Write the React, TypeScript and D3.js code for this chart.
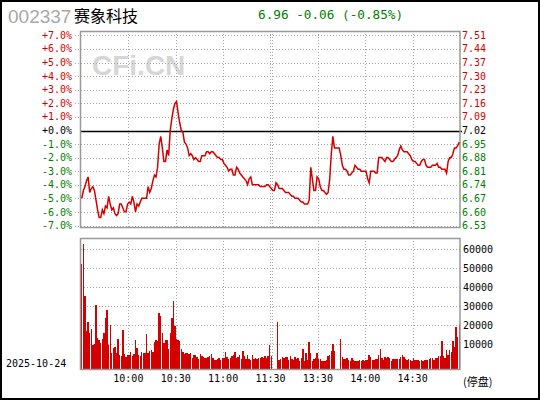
import React from "react";
import * as d3 from "d3";

// 赛象科技 002337, 2025-10-24 intraday (one point per minute, 240 minutes)
const prevClose = 7.02;

const prices: number[] = [
  6.67, 6.71, 6.73, 6.76, 6.78, 6.70, 6.72, 6.73, 6.71, 6.66,
  6.61, 6.57, 6.57, 6.61, 6.59, 6.63, 6.62, 6.68, 6.64, 6.61,
  6.62, 6.59, 6.58, 6.59, 6.64, 6.64, 6.62, 6.60, 6.60, 6.64,
  6.65, 6.64, 6.68, 6.65, 6.60, 6.64, 6.63, 6.65, 6.67, 6.67,
  6.67, 6.67, 6.73, 6.70, 6.72, 6.76, 6.79, 6.78, 6.83, 6.95,
  6.99, 6.93, 6.86, 6.86, 6.92, 6.89, 7.02, 7.08, 7.13, 7.16,
  7.17, 7.11, 7.06, 7.02, 7.01, 6.96, 6.95, 6.93, 6.89, 6.90,
  6.89, 6.87, 6.88, 6.87, 6.86, 6.86, 6.89, 6.89, 6.89, 6.91,
  6.91, 6.90, 6.91, 6.91, 6.90, 6.89, 6.88, 6.88, 6.87, 6.87,
  6.85, 6.84, 6.83, 6.81, 6.82, 6.82, 6.79, 6.79, 6.83, 6.82,
  6.80, 6.79, 6.78, 6.77, 6.76, 6.74, 6.77, 6.78, 6.74, 6.74,
  6.74, 6.74, 6.74, 6.73, 6.73, 6.73, 6.73, 6.74, 6.74, 6.73,
  6.72, 6.71, 6.71, 6.75, 6.74, 6.72, 6.72, 6.72, 6.71, 6.70,
  6.70, 6.70, 6.69, 6.68, 6.68, 6.67, 6.67, 6.67, 6.66, 6.65,
  6.65, 6.64, 6.64, 6.64, 6.66, 6.83, 6.77, 6.71, 6.71, 6.78,
  6.77, 6.73, 6.71, 6.71, 6.70, 6.69, 6.70, 6.77, 6.90, 6.99,
  6.93, 6.93, 6.93, 6.93, 6.89, 6.84, 6.82, 6.82, 6.81, 6.79,
  6.79, 6.80, 6.81, 6.84, 6.83, 6.82, 6.82, 6.81, 6.81, 6.81,
  6.81, 6.77, 6.75, 6.81, 6.81, 6.81, 6.80, 6.80, 6.88, 6.88,
  6.88, 6.87, 6.86, 6.88, 6.88, 6.87, 6.86, 6.86, 6.87, 6.88,
  6.89, 6.92, 6.94, 6.92, 6.91, 6.91, 6.91, 6.90, 6.89, 6.87,
  6.86, 6.86, 6.85, 6.84, 6.84, 6.86, 6.87, 6.87, 6.84, 6.83,
  6.83, 6.83, 6.84, 6.84, 6.84, 6.85, 6.83, 6.83, 6.82, 6.82,
  6.82, 6.80, 6.86, 6.88, 6.88, 6.90, 6.93, 6.93, 6.94, 6.96,
];

const volumes: number[] = [
  52300, 62600, 35300, 17000, 21700, 16100, 18000, 9600, 10000, 30600,
  13300, 12200, 10500, 12800, 16000, 23800, 28000, 9600, 20000, 5600,
  8000, 8600, 5600, 12800, 4200, 3900, 17500, 4900, 3300, 4200,
  4400, 6000, 3900, 5000, 12300, 7900, 4200, 4000, 5800, 5400,
  5600, 15400, 5200, 6600, 7000, 6200, 11000, 12300, 11800, 26400,
  24800, 16000, 10700, 12300, 12300, 7700, 15800, 23600, 33000, 19400,
  12800, 12300, 12000, 7500, 6000, 5000, 5500, 5500, 5000, 5600,
  3000, 4600, 4500, 3400, 2500, 5000, 3600, 3500, 3000, 3000,
  3500, 4000, 5000, 3000, 2000, 2000, 2500, 2600, 2000, 2600,
  3000, 6000, 3500, 2500, 3000, 3600, 4500, 6000, 3000, 3500,
  4200, 2500, 6500, 4000, 2500, 4600, 2500, 2000, 4600, 2500,
  2600, 2500, 3000, 2600, 3400, 2800, 3600, 3000, 4000, 9600,
  3600, 0, 0, 0, 21700, 1900, 2300, 3500, 2800, 3500,
  3500, 1800, 3800, 2300, 1500, 3100, 2100, 3000, 1400, 2800,
  7500, 1400, 5500, 1500, 11200, 5500, 1000, 2100, 3000, 5500,
  2100, 2500, 1300, 1400, 1400, 1900, 3700, 4500, 6300, 10200,
  6300, 0, 0, 0, 12800, 3500, 2500, 2100, 2800, 1900,
  1000, 2800, 1900, 1300, 1200, 1000, 1700, 1400, 1600, 1000,
  1600, 1600, 4300, 3500, 1900, 1700, 2300, 2300, 4200, 7400,
  2800, 1900, 3200, 2800, 3200, 2800, 1400, 2100, 2300, 2300,
  2500, 2100, 3100, 4200, 3500, 2300, 1500, 2500, 1700, 1200,
  2600, 1600, 1600, 1900, 1200, 1700, 1400, 1600, 1900, 1900,
  2100, 2600, 2600, 1700, 2800, 2800, 3600, 3600, 12000, 3700,
  2600, 7000, 4600, 7000, 6000, 11500, 8500, 19000, 14000, 20500,
];

const pctTicks = [7, 6, 5, 4, 3, 2, 1, 0, -1, -2, -3, -4, -5, -6, -7];
const pctLabels = ["+7.0%", "+6.0%", "+5.0%", "+4.0%", "+3.0%", "+2.0%", "+1.0%", "+0.0%",
  "-1.0%", "-2.0%", "-3.0%", "-4.0%", "-5.0%", "-6.0%", "-7.0%"];
const priceLabels = ["7.51", "7.44", "7.37", "7.30", "7.23", "7.16", "7.09", "7.02",
  "6.95", "6.88", "6.81", "6.74", "6.67", "6.60", "6.53"];
const volTicks = [10000, 20000, 30000, 40000, 50000, 60000];
const timeTicks = [30, 60, 90, 120, 150, 180, 210];
const timeLabels = ["10:00", "10:30", "11:00", "11:30", "13:30", "14:00", "14:30"];

const RED = "#d40000";
const GREEN = "#008000";
const GRID = "#a8a8a8";
const mono = "'DejaVu Sans Mono', monospace";

export default function App() {
  const left = 81, right = 460;
  const priceTop = 31, priceBottom = 227;
  const volTop = 238, volBottom = 369;

  const x = d3.scaleLinear().domain([0, 240]).range([left, right]);
  const yP = d3.scaleLinear()
    .domain([prevClose * 0.93, prevClose * 1.07])
    .range([225.6, 35.4]);
  const yV = d3.scaleLinear().domain([0, 60000]).range([363.3, 249.3]);

  const linePath = d3.line<number>()
    .x((_, i) => x(i + 0.5))
    .y(d => yP(d))(prices) as string;

  const snap = (v: number) => Math.round(v) + 0.5;
  const pctColor = (p: number) => (p > 0 ? RED : p < 0 ? GREEN : "#000");

  const vGrid = (t: number, k: number, y1: number, y2: number) =>
    t === 120 ? (
      <g key={k}>
        <line x1={snap(x(t)) - 1} x2={snap(x(t)) - 1} y1={y1} y2={y2} stroke={GRID} strokeDasharray="1 2" shapeRendering="crispEdges" />
        <line x1={snap(x(t)) + 1} x2={snap(x(t)) + 1} y1={y1} y2={y2} stroke={GRID} strokeDasharray="1 2" shapeRendering="crispEdges" />
      </g>
    ) : (
      <line key={k} x1={snap(x(t))} x2={snap(x(t))} y1={y1} y2={y2} stroke={GRID} strokeDasharray="1 2" shapeRendering="crispEdges" />
    );

  return (
    <svg width={540} height={400} style={{ position: "absolute", left: 0, top: 0, background: "#fff" }}>
      <rect x={1} y={1} width={538} height={398} fill="#fff" stroke="#000" strokeWidth={2} />

      {/* header */}
      <text x={8} y={23} fontFamily="'Liberation Sans', Arial, sans-serif" fontSize={19} fill="#a8a8a8">002337</text>
      <text x={74} y={22} fontFamily="'Noto Sans CJK SC', sans-serif" fontSize={16} fill="#000">赛象科技</text>
      <text x={258} y={19} fontFamily={mono} fontSize={12.7} fill={GREEN}>6.96 -0.06 (-0.85%)</text>

      {/* watermark */}
      <text x={92} y={75} fontFamily="'Liberation Sans', Arial, sans-serif" fontWeight="bold" fontSize={28} fill="#d6d6d6">CFi.CN</text>

      {/* price grid */}
      {pctTicks.map((p, k) => {
        const y = snap(yP(prevClose * (1 + p / 100)));
        return p === 0 ? (
          <line key={k} x1={left} x2={right + 2} y1={y} y2={y} stroke="#000" strokeWidth={1.5} />
        ) : (
          <line key={k} x1={75} x2={right} y1={y} y2={y} stroke={GRID} strokeDasharray="1 2" shapeRendering="crispEdges" />
        );
      })}
      {timeTicks.map((t, k) => vGrid(t, k, priceTop, priceBottom))}
      <rect x={80.5} y={priceTop + 0.5} width={right - left + 0.5} height={priceBottom - priceTop} fill="none" stroke="#999" strokeWidth={1.5} />

      {/* price axis labels */}
      {pctTicks.map((p, k) => {
        const y = yP(prevClose * (1 + p / 100));
        return (
          <g key={k} fontFamily={mono} fontSize={10} fill={pctColor(p)}>
            <text x={72} y={y} textAnchor="end" dominantBaseline="central">{pctLabels[k]}</text>
            <text x={462} y={y} dominantBaseline="central">{priceLabels[k]}</text>
          </g>
        );
      })}

      {/* price line */}
      <path d={linePath} fill="none" stroke={RED} strokeWidth={1.5} />

      {/* volume grid */}
      {volTicks.map((v, k) => (
        <line key={k} x1={left} x2={right} y1={snap(yV(v))} y2={snap(yV(v))} stroke={GRID} strokeDasharray="1 2" shapeRendering="crispEdges" />
      ))}
      {timeTicks.map((t, k) => vGrid(t, k, volTop, volBottom))}

      {/* volume bars */}
      {volumes.map((v, i) => v > 0 ? (
        <rect key={i} x={x(i + 0.5) - 0.7} y={yV(v)} width={1.4} height={volBottom - yV(v)} fill={RED} shapeRendering="crispEdges" />
      ) : null)}

      <rect x={80.5} y={volTop + 0.5} width={right - left + 0.5} height={volBottom - volTop} fill="none" stroke="#999" strokeWidth={1.5} />

      {volTicks.map((v, k) => (
        <text key={k} x={463} y={yV(v)} fontFamily={mono} fontSize={10} fill="#000" dominantBaseline="central">{v}</text>
      ))}

      {/* time axis */}
      {timeTicks.map((t, k) => (
        <text key={k} x={x(t)} y={378} fontFamily={mono} fontSize={10} fill="#000" textAnchor="middle" dominantBaseline="central">{timeLabels[k]}</text>
      ))}
      <text x={463} y={381} fontFamily="'Noto Sans CJK SC', sans-serif" fontSize={11} fill="#000" dominantBaseline="central">(停盘)</text>
      <text x={6} y={363} fontFamily={mono} fontSize={10} fill="#000" dominantBaseline="central">2025-10-24</text>
    </svg>
  );
}
